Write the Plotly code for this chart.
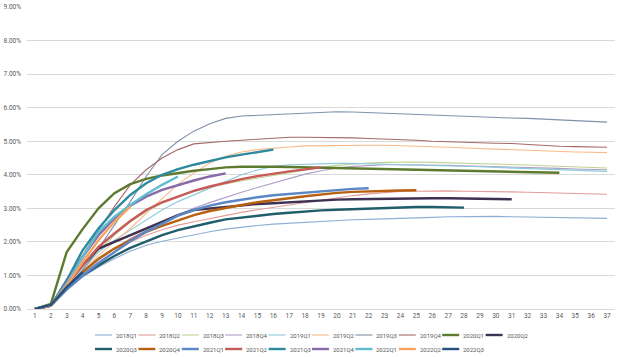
import plotly.graph_objects as go

periods = list(range(1, 38))

names = ["2018Q1", "2018Q2", "2018Q3", "2018Q4", "2019Q1", "2019Q2", "2019Q3", "2019Q4",
         "2020Q1", "2020Q2", "2020Q3", "2020Q4", "2021Q1", "2021Q2", "2021Q3", "2021Q4",
         "2022Q1", "2022Q2", "2022Q3"]

s2018Q1 = [0, 0.1, 0.55, 0.95, 1.25, 1.5, 1.72, 1.9, 2.02, 2.12, 2.22, 2.3, 2.38, 2.44, 2.49, 2.53, 2.56,
           2.59, 2.62, 2.64, 2.66, 2.67, 2.68, 2.7, 2.72, 2.73, 2.75, 2.76, 2.77, 2.76, 2.75, 2.74, 2.73,
           2.72, 2.72, 2.71, 2.7]
s2018Q2 = [0, 0.1, 0.6, 1.0, 1.35, 1.7, 2.0, 2.2, 2.36, 2.5, 2.6, 2.7, 2.8, 2.88, 2.96, 3.03, 3.1, 3.18,
           3.26, 3.33, 3.38, 3.43, 3.47, 3.5, 3.51, 3.52, 3.52, 3.51, 3.51, 3.5, 3.49, 3.48, 3.47, 3.46,
           3.45, 3.43, 3.42]
s2018Q3 = [0, 0.1, 0.65, 1.15, 1.7, 2.2, 2.6, 2.9, 3.15, 3.35, 3.5, 3.62, 3.73, 3.82, 3.9, 3.97, 4.05,
           4.15, 4.22, 4.28, 4.32, 4.35, 4.37, 4.38, 4.38, 4.37, 4.36, 4.35, 4.34, 4.33, 4.31, 4.29, 4.27,
           4.25, 4.23, 4.21, 4.2]
s2018Q4 = [0, 0.1, 0.6, 1.05, 1.45, 1.8, 2.1, 2.35, 2.58, 2.8, 3.0, 3.17, 3.33, 3.48, 3.62, 3.76, 3.9,
           4.02, 4.12, 4.2, 4.25, 4.28, 4.3, 4.3, 4.3, 4.29, 4.28, 4.27, 4.26, 4.25, 4.23, 4.22, 4.2, 4.19,
           4.17, 4.16, 4.15]
s2019Q1 = [0, 0.1, 0.65, 1.2, 1.7, 2.05, 2.35, 2.65, 2.95, 3.2, 3.4, 3.6, 3.82, 4.0, 4.14, 4.25, 4.3,
           4.32, 4.33, 4.34, 4.34, 4.33, 4.32, 4.3, 4.29, 4.27, 4.26, 4.25, 4.24, 4.22, 4.2, 4.18, 4.16,
           4.14, 4.13, 4.12, 4.1]
s2019Q2 = [0, 0.1, 0.6, 1.1, 1.6, 2.0, 2.4, 2.85, 3.3, 3.72, 4.05, 4.35, 4.55, 4.68, 4.75, 4.8, 4.83,
           4.86, 4.87, 4.88, 4.88, 4.88, 4.88, 4.87, 4.86, 4.84, 4.82, 4.8, 4.78, 4.76, 4.74, 4.73, 4.71,
           4.7, 4.68, 4.67, 4.66]
s2019Q3 = [0, 0.1, 0.6, 1.15, 1.8, 2.5, 3.2, 3.95, 4.6, 5.0, 5.3, 5.52, 5.68, 5.75, 5.77, 5.78, 5.81,
           5.84, 5.86, 5.88, 5.87, 5.85, 5.84, 5.82, 5.8, 5.78, 5.76, 5.73, 5.71, 5.7, 5.69, 5.68, 5.66,
           5.64, 5.62, 5.6, 5.57]
s2019Q4 = [0, 0.1, 0.9, 1.6, 2.35, 3.05, 3.7, 4.15, 4.5, 4.75, 4.92, 4.97, 5.0, 5.03, 5.06, 5.1, 5.12,
           5.12, 5.12, 5.12, 5.1, 5.08, 5.07, 5.05, 5.03, 5.0, 4.98, 4.96, 4.95, 4.94, 4.93, 4.9, 4.86,
           4.85, 4.84, 4.83, 4.82]
s2020Q1 = [0, 0.15, 1.7, 2.38, 3.0, 3.45, 3.72, 3.88, 3.98, 4.06, 4.12, 4.17, 4.22, 4.24, 4.25, 4.24,
           4.23, 4.22, 4.22, 4.21, 4.21, 4.2, 4.19, 4.18, 4.17, 4.15, 4.14, 4.12, 4.11, 4.1, 4.09, 4.08,
           4.07, 4.06]
s2020Q2 = [0, 0.1, 0.75, 1.3, 1.8, 2.0, 2.2, 2.38, 2.6, 2.8, 2.95, 3.0, 3.05, 3.1, 3.13, 3.15, 3.18,
           3.21, 3.24, 3.26, 3.27, 3.28, 3.28, 3.29, 3.29, 3.3, 3.3, 3.3, 3.29, 3.28, 3.27]
s2020Q3 = [0, 0.1, 0.6, 1.0, 1.3, 1.58, 1.82, 2.02, 2.2, 2.35, 2.47, 2.57, 2.67, 2.73, 2.78, 2.83, 2.87,
           2.91, 2.94, 2.96, 2.98, 3.0, 3.02, 3.03, 3.04, 3.04, 3.03, 3.02]
s2020Q4 = [0, 0.1, 0.65, 1.1, 1.5, 1.8, 2.05, 2.3, 2.48, 2.65, 2.8, 2.92, 3.02, 3.1, 3.18, 3.25, 3.3,
           3.36, 3.42, 3.46, 3.49, 3.51, 3.52, 3.53, 3.54]
s2021Q1 = [0, 0.1, 0.6, 1.0, 1.37, 1.7, 2.02, 2.3, 2.55, 2.78, 2.95, 3.08, 3.18, 3.26, 3.33, 3.39, 3.43,
           3.47, 3.52, 3.55, 3.58, 3.6]
s2021Q2 = [0, 0.1, 0.7, 1.3, 1.85, 2.25, 2.62, 2.95, 3.18, 3.35, 3.52, 3.65, 3.77, 3.87, 3.96, 4.04,
           4.1, 4.16, 4.22]
s2021Q3 = [0, 0.1, 0.85, 1.75, 2.4, 2.95, 3.4, 3.75, 4.0, 4.17, 4.3, 4.42, 4.52, 4.6, 4.68, 4.75]
s2021Q4 = [0, 0.1, 0.8, 1.55, 2.2, 2.7, 3.08, 3.35, 3.55, 3.7, 3.83, 3.95, 4.04]
s2022Q1 = [0, 0.1, 0.75, 1.55, 2.3, 2.75, 3.1, 3.42, 3.7, 3.95]
s2022Q2 = [0, 0.1, 0.7, 1.4, 2.05, 2.6, 3.05]
s2022Q3 = [0, 0.12, 0.65, 1.1]

series = [s2018Q1, s2018Q2, s2018Q3, s2018Q4, s2019Q1, s2019Q2, s2019Q3, s2019Q4,
          s2020Q1, s2020Q2, s2020Q3, s2020Q4, s2021Q1, s2021Q2, s2021Q3, s2021Q4,
          s2022Q1, s2022Q2, s2022Q3]

colors = ["#8FAED6", "#E39C9A", "#BFD393", "#B09DC6", "#8DCADA", "#F8BB88", "#7F91AB", "#A56A68",
          "#5E7A2E", "#3F3151", "#215E6B", "#B8600F", "#5B87C5", "#C65A57", "#2E8A9E", "#8768A8",
          "#5FBCD3", "#F5A35E", "#264F7F"]
widths = [1.1] * 8 + [2.4] * 11

ytick_vals = [0, 1, 2, 3, 4, 5, 6, 7, 8, 9]
ytick_text = ["%.2f%%" % v for v in ytick_vals]

W, H = 624, 357
ML, MR, MT, MB = 27, 9, 7, 48
PW, PH = W - ML - MR, H - MT - MB

fig = go.Figure()
for name, vals, col, w in zip(names, series, colors, widths):
    fig.add_trace(go.Scatter(
        x=periods[:len(vals)], y=vals, name=name, mode="lines",
        line=dict(color=col, width=w), showlegend=False,
    ))

# Legend laid out as a 10-column grid, two rows (like the original)
per_row = 10
col_pitch = 43.4
first_text_px = 114
row_px = [335, 349]
shapes = []
annotations = []
for i, (name, col, w) in enumerate(zip(names, colors, widths)):
    r, c = divmod(i, per_row)
    tx = first_text_px + c * col_pitch
    py = row_px[r]
    yp = (H - MB - py) / PH
    shapes.append(dict(type="line", xref="paper", yref="paper",
                       x0=(tx - 19 - ML) / PW, x1=(tx - 2 - ML) / PW, y0=yp, y1=yp,
                       line=dict(color=col, width=w)))
    annotations.append(dict(text=name, xref="paper", yref="paper",
                            x=(tx - ML) / PW, y=yp, xanchor="left", yanchor="middle",
                            showarrow=False, font=dict(size=6, color="#595959")))

font_family = "Roboto, Open Sans, sans-serif"

fig.update_layout(
    width=W, height=H,
    margin=dict(l=ML, r=MR, t=MT, b=MB, autoexpand=False),
    paper_bgcolor="white", plot_bgcolor="white",
    font=dict(family=font_family, size=7, color="#595959"),
    xaxis=dict(
        type="linear", range=[0.5, 37.5], tickmode="array", tickvals=periods,
        ticktext=[str(p) for p in periods], showgrid=False, zeroline=False,
        showline=True, linecolor="#D9D9D9", linewidth=1, ticks="",
        tickfont=dict(size=6.5, color="#595959"),
    ),
    yaxis=dict(
        range=[0, 9], tickmode="array", tickvals=ytick_vals, ticktext=ytick_text,
        showgrid=True, gridcolor="#D9D9D9", gridwidth=1, zeroline=False,
        showline=False, ticks="", ticklabelstandoff=5,
        tickfont=dict(size=6.5, color="#595959"),
    ),
    showlegend=False,
    shapes=shapes,
    annotations=annotations,
)

fig.write_html("out.html", config={"displayModeBar": False},
               post_script="document.body.style.margin='0';document.body.style.padding='0';")
